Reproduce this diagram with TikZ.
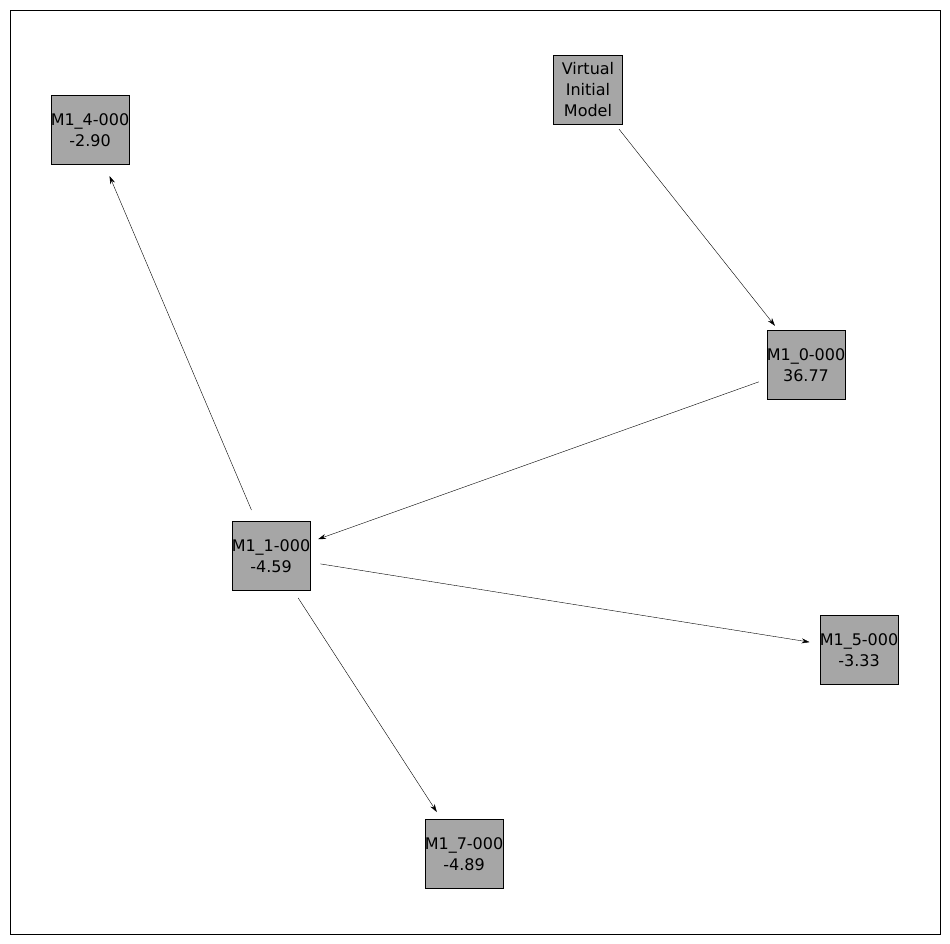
\documentclass[tikz,border=0pt]{standalone}
\usepackage{fontspec}
\setmainfont{DejaVu Sans}
\usetikzlibrary{arrows.meta}
\definecolor{boxgray}{HTML}{A6A6A6}

\begin{document}
\begin{tikzpicture}[x=1pt,y=-1pt]
	\tikzset{
		model/.style={rectangle,draw,fill=boxgray,minimum width=69,minimum height=69,
			inner sep=0pt,align=center,font=\fontsize{16}{21}\selectfont},
		link/.style={-{Stealth[length=8,width=5]},shorten <=50,shorten >=50}
	}
	\useasboundingbox (0,0) rectangle (950,944);
	\draw (10,10) rectangle (940,934);
	
	\begin{scope}[every node/.style={model}]
		\node (V) at (588,90) {Virtual\\Initial\\Model};
		\node (M4) at (90,130) {M1\_4-000\\-2.90};
		\node (M0) at (806,365) {M1\_0-000\\36.77};
		\node (M1) at (271,556) {M1\_1-000\\-4.59};
		\node (M5) at (859,650) {M1\_5-000\\-3.33};
		\node (M7) at (464,854) {M1\_7-000\\-4.89};
	\end{scope}
	
	\begin{scope}[every path/.style={link}]
		\draw (V.center) -- (M0.center);
		\draw (M0.center) -- (M1.center);
		\draw (M1.center) -- (M4.center);
		\draw (M1.center) -- (M5.center);
		\draw (M1.center) -- (M7.center);
	\end{scope}
\end{tikzpicture}
\end{document}
